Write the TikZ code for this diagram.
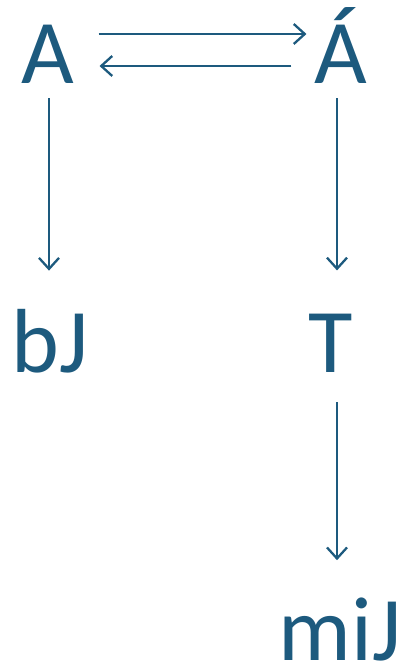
\documentclass[tikz,border=0pt]{standalone}
\usepackage{fontspec}
\setmainfont{Carlito}
\usetikzlibrary{arrows.meta}
\definecolor{dblue}{HTML}{1D5A7E}
\tikzset{
  lbl/.style={inner sep=0pt, anchor=base, text=dblue, font=\fontsize{91}{91}\selectfont},
  arr/.style={draw=dblue, line width=2.3pt, -{Straight Barb[length=11pt,width=20pt,line width=2.3pt]}}
}
\begin{document}
\begin{tikzpicture}[x=1pt,y=1pt]
\useasboundingbox (0,0) rectangle (405,668);
\node[lbl] (A) at (48,584) {A};
\node[lbl] (Aa) at (341,584) {Á};
\node[lbl] (bJ) at (50,295) {bJ};
\node[lbl] (T) at (331,295) {T};
\node[lbl] (miJ) at (340,8) {miJ};
\draw[arr] ([shift={(24pt,50pt)}]A.base east) -- ([shift={(-8pt,50pt)}]Aa.base west);
\draw[arr] ([shift={(-23pt,18pt)}]Aa.base west) -- ([shift={(25pt,18pt)}]A.base east);
\draw[arr, shorten <=14pt, shorten >=39pt] ([xshift=1pt]A.south) -- ([xshift=1pt]A.south |- bJ.north);
\draw[arr, shorten <=14pt, shorten >=44pt] ([xshift=-4pt]Aa.south) -- ([xshift=-4pt]Aa.south |- T.north);
\draw[arr, shorten <=29pt, shorten >=37pt] ([xshift=-4pt]Aa.south |- T.south) -- ([xshift=-4pt]Aa.south |- miJ.north);
\end{tikzpicture}
\end{document}
